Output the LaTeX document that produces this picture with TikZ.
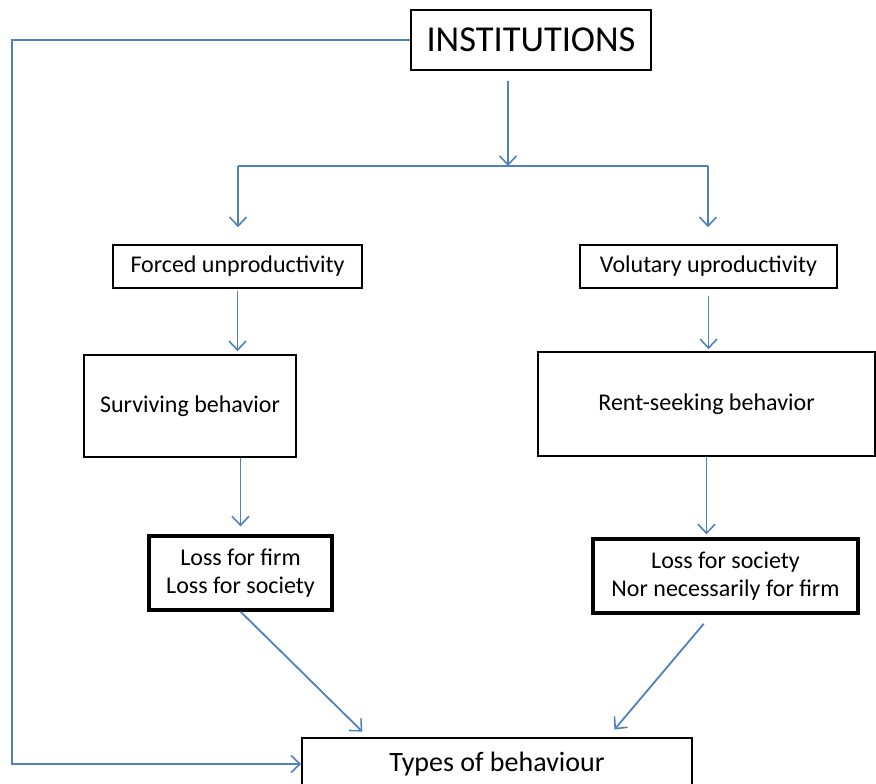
\documentclass[tikz,border=0pt]{standalone}
\usepackage{fontspec}
\setmainfont{Carlito}
\usetikzlibrary{arrows.meta}
\definecolor{linkblue}{HTML}{4F81BD}

\begin{document}
\begin{tikzpicture}[x=1pt,y=1pt,
    box/.style={draw,line width=1.6pt,inner sep=0pt,font=\fontsize{24}{28}\selectfont},
    heavybox/.style={box,line width=3.2pt,align=center,font=\fontsize{24}{28}\selectfont},
    link/.style={draw=linkblue,line width=1.8pt,-{Straight Barb[length=9pt,width=17pt,line width=1.6pt]}}]
    \useasboundingbox (0,0) rectangle (876,784);
    % boxes
    \node[box,minimum width=240pt,minimum height=60pt,font=\fontsize{36.5}{40}\selectfont] (inst) at (531,744) {INSTITUTIONS};
    \node[box,minimum width=249pt,minimum height=43pt] (forced) at (237.5,517.5) {Forced unproductivity};
    \node[box,minimum width=257pt,minimum height=43pt] (volun) at (708.5,517.5) {Volutary uproductivity};
    \node[box,minimum width=212pt,minimum height=102pt] (surv) at (190,378) {Surviving behavior};
    \node[box,minimum width=337pt,minimum height=104pt] (rent) at (706.5,380) {Rent-seeking behavior};
    \node[heavybox,minimum width=183pt,minimum height=74pt] (lossf) at (240.5,211) {Loss for firm\\Loss for society};
    \node[heavybox,minimum width=265pt,minimum height=74pt] (losss) at (725.5,208) {Loss for society\\Nor necessarily for firm};
    \node[box,minimum width=390pt,minimum height=52pt,font=\fontsize{28}{32}\selectfont] (types) at (497,20) {Types of behaviour};
    % junctions
    \coordinate (lft) at (12,744);
    \coordinate (split) at (508,618);
    \coordinate (sl) at (238,618);
    \coordinate (sr) at (708,618);
    % connectors
    \draw[link] (inst.west) -- (lft) |- (types.west);
    \draw[link,shorten <=10pt] (split |- inst.south) -- (split);
    \draw[draw=linkblue,line width=1.8pt] (sl) -- (sr);
    \draw[link,shorten >=17pt] (sl) -- (sl |- forced.north);
    \draw[link,shorten >=17pt] (sr) -- (sr |- volun.north);
    \draw[link,shorten <=2pt,shorten >=3pt] (forced.south) -- (forced.south |- surv.north);
    \draw[link,shorten <=7pt,shorten >=2pt] (volun.south) -- (volun.south |- rent.north);
    \draw[link,shorten >=8pt] (lossf.north |- surv.south) -- (lossf.north);
    \draw[link,shorten >=3pt] (rent.south) -- (rent.south |- losss.north);
    \draw[link,shorten >=8pt] (lossf.south) -- ([xshift=-129pt]types.north);
    \draw[link,shorten <=12pt,shorten >=10pt] ([xshift=-14pt]losss.south) -- ([xshift=111pt]types.north);
\end{tikzpicture}
\end{document}
